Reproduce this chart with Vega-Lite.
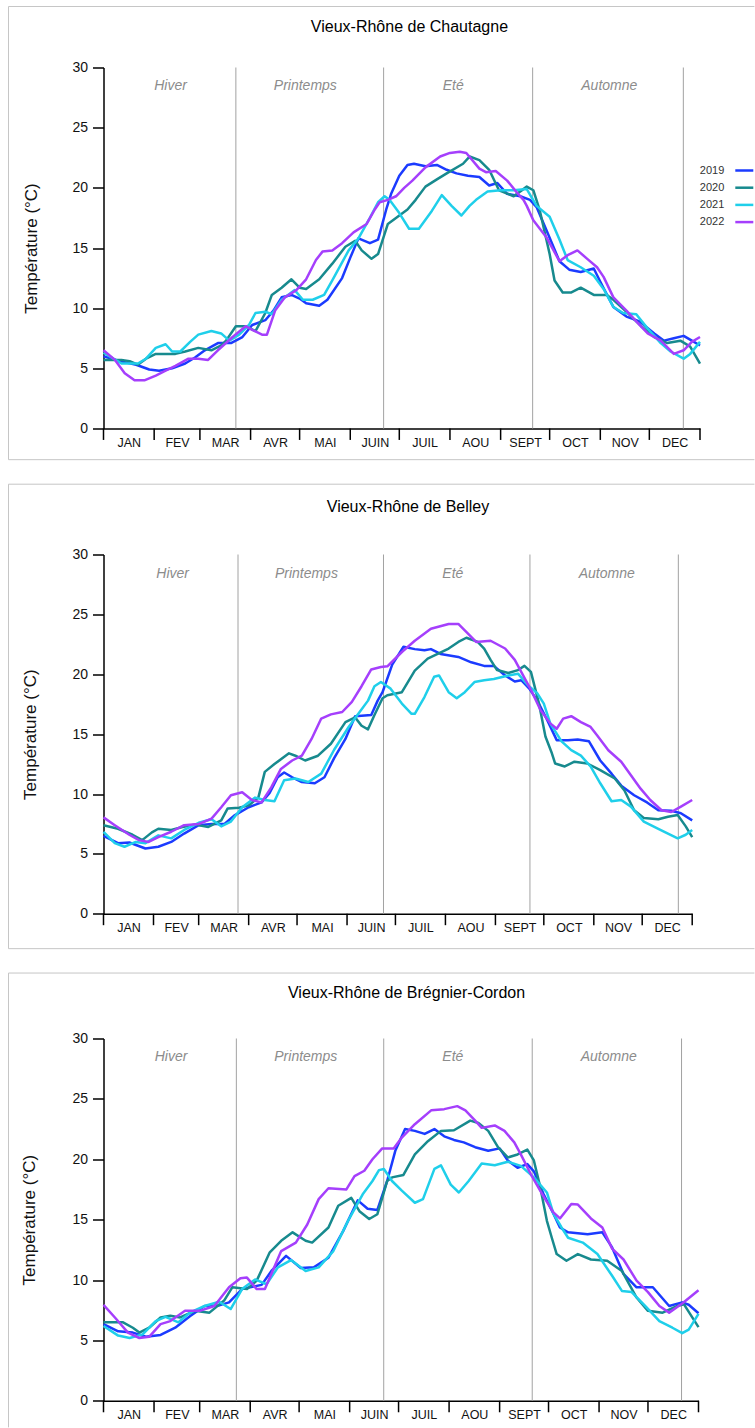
{
"$schema": "https://vega.github.io/schema/vega-lite/v6.json",
"background": "white",
"padding": {"left": 7.5, "top": 5.5, "right": 0, "bottom": 0},
"autosize": {"type": "pad"},
"columns": 1,
"align": "none",
"spacing": 23,
"config": {
  "view": {"stroke": null},
  "font": "Liberation Sans",
  "axis": {"labelFont": "Liberation Sans", "titleFont": "Liberation Sans", "labelColor": "#111", "titleColor": "#111", "grid": false},
  "legend": {"labelFont": "Liberation Sans"},
  "text": {"font": "Liberation Sans"}
},
"datasets": {
  "months": [{"d":0},{"d":31},{"d":59},{"d":90},{"d":120},{"d":151},{"d":181},{"d":212},{"d":243},{"d":273},{"d":304},{"d":334},{"d":365}],
  "s1": [{"name":"Hiver","end":81,"mid":41},{"name":"Printemps","end":171.4,"mid":123.5},{"name":"Eté","end":262.6,"mid":214},{"name":"Automne","end":354.8,"mid":309.5}],
  "s2": [{"name":"Hiver","end":83.4,"mid":42.9},{"name":"Printemps","end":173.6,"mid":125.8},{"name":"Eté","end":264.4,"mid":216.6},{"name":"Automne","end":356.4,"mid":312}],
  "s3": [{"name":"Hiver","end":81.5,"mid":41.4},{"name":"Printemps","end":171.9,"mid":124.1},{"name":"Eté","end":263,"mid":214.3},{"name":"Automne","end":354.6,"mid":309.9}],
  "chautagne": [
{"yr":2019,"d":0,"t":6.0},{"yr":2019,"d":10,"t":5.6},{"yr":2019,"d":20,"t":5.3},{"yr":2019,"d":28,"t":4.9},{"yr":2019,"d":34,"t":4.8},{"yr":2019,"d":42,"t":5.0},{"yr":2019,"d":50,"t":5.4},{"yr":2019,"d":56,"t":5.9},{"yr":2019,"d":62,"t":6.5},{"yr":2019,"d":70,"t":7.1},{"yr":2019,"d":78,"t":7.1},{"yr":2019,"d":85,"t":7.6},{"yr":2019,"d":91,"t":8.6},{"yr":2019,"d":99,"t":9.0},{"yr":2019,"d":104,"t":9.8},{"yr":2019,"d":109,"t":10.9},{"yr":2019,"d":115,"t":11.1},{"yr":2019,"d":120,"t":10.8},{"yr":2019,"d":124,"t":10.4},{"yr":2019,"d":132,"t":10.2},{"yr":2019,"d":137,"t":10.7},{"yr":2019,"d":146,"t":12.5},{"yr":2019,"d":151,"t":14.2},{"yr":2019,"d":156,"t":15.8},{"yr":2019,"d":163,"t":15.4},{"yr":2019,"d":168,"t":15.7},{"yr":2019,"d":173,"t":18.2},{"yr":2019,"d":176,"t":19.5},{"yr":2019,"d":181,"t":21.0},{"yr":2019,"d":186,"t":21.9},{"yr":2019,"d":190,"t":22.0},{"yr":2019,"d":197,"t":21.8},{"yr":2019,"d":204,"t":21.9},{"yr":2019,"d":210,"t":21.5},{"yr":2019,"d":216,"t":21.2},{"yr":2019,"d":223,"t":21.0},{"yr":2019,"d":230,"t":20.9},{"yr":2019,"d":236,"t":20.2},{"yr":2019,"d":241,"t":20.4},{"yr":2019,"d":247,"t":19.5},{"yr":2019,"d":255,"t":19.3},{"yr":2019,"d":261,"t":19.0},{"yr":2019,"d":265,"t":18.4},{"yr":2019,"d":271,"t":16.5},{"yr":2019,"d":279,"t":13.9},{"yr":2019,"d":285,"t":13.2},{"yr":2019,"d":292,"t":13.0},{"yr":2019,"d":300,"t":13.3},{"yr":2019,"d":304,"t":12.2},{"yr":2019,"d":312,"t":10.1},{"yr":2019,"d":320,"t":9.3},{"yr":2019,"d":328,"t":8.9},{"yr":2019,"d":337,"t":7.9},{"yr":2019,"d":343,"t":7.3},{"yr":2019,"d":349,"t":7.5},{"yr":2019,"d":355,"t":7.7},{"yr":2019,"d":360,"t":7.3},{"yr":2019,"d":365,"t":6.9},
{"yr":2020,"d":0,"t":5.7},{"yr":2020,"d":11,"t":5.7},{"yr":2020,"d":16,"t":5.6},{"yr":2020,"d":21,"t":5.3},{"yr":2020,"d":26,"t":5.8},{"yr":2020,"d":32,"t":6.2},{"yr":2020,"d":38,"t":6.2},{"yr":2020,"d":44,"t":6.2},{"yr":2020,"d":50,"t":6.4},{"yr":2020,"d":58,"t":6.7},{"yr":2020,"d":66,"t":6.5},{"yr":2020,"d":72,"t":6.9},{"yr":2020,"d":75,"t":7.3},{"yr":2020,"d":81,"t":8.5},{"yr":2020,"d":87,"t":8.5},{"yr":2020,"d":93,"t":8.1},{"yr":2020,"d":99,"t":9.6},{"yr":2020,"d":103,"t":11.1},{"yr":2020,"d":109,"t":11.7},{"yr":2020,"d":115,"t":12.4},{"yr":2020,"d":120,"t":11.7},{"yr":2020,"d":124,"t":11.6},{"yr":2020,"d":132,"t":12.4},{"yr":2020,"d":140,"t":13.7},{"yr":2020,"d":148,"t":15.1},{"yr":2020,"d":154,"t":15.6},{"yr":2020,"d":158,"t":14.8},{"yr":2020,"d":164,"t":14.1},{"yr":2020,"d":168,"t":14.5},{"yr":2020,"d":174,"t":17.0},{"yr":2020,"d":180,"t":17.6},{"yr":2020,"d":186,"t":18.2},{"yr":2020,"d":191,"t":19.0},{"yr":2020,"d":197,"t":20.1},{"yr":2020,"d":204,"t":20.7},{"yr":2020,"d":210,"t":21.2},{"yr":2020,"d":220,"t":22.0},{"yr":2020,"d":224,"t":22.6},{"yr":2020,"d":230,"t":22.3},{"yr":2020,"d":236,"t":21.5},{"yr":2020,"d":242,"t":19.8},{"yr":2020,"d":251,"t":19.3},{"yr":2020,"d":259,"t":20.1},{"yr":2020,"d":263,"t":19.8},{"yr":2020,"d":267,"t":18.1},{"yr":2020,"d":273,"t":14.5},{"yr":2020,"d":276,"t":12.3},{"yr":2020,"d":281,"t":11.3},{"yr":2020,"d":286,"t":11.3},{"yr":2020,"d":292,"t":11.7},{"yr":2020,"d":300,"t":11.1},{"yr":2020,"d":308,"t":11.1},{"yr":2020,"d":312,"t":10.7},{"yr":2020,"d":320,"t":9.7},{"yr":2020,"d":329,"t":8.5},{"yr":2020,"d":337,"t":7.6},{"yr":2020,"d":345,"t":7.1},{"yr":2020,"d":353,"t":7.3},{"yr":2020,"d":359,"t":6.8},{"yr":2020,"d":365,"t":5.4},
{"yr":2021,"d":0,"t":6.3},{"yr":2021,"d":11,"t":5.4},{"yr":2021,"d":21,"t":5.4},{"yr":2021,"d":26,"t":5.8},{"yr":2021,"d":32,"t":6.7},{"yr":2021,"d":38,"t":7.0},{"yr":2021,"d":42,"t":6.4},{"yr":2021,"d":47,"t":6.4},{"yr":2021,"d":53,"t":7.2},{"yr":2021,"d":58,"t":7.8},{"yr":2021,"d":66,"t":8.1},{"yr":2021,"d":72,"t":7.9},{"yr":2021,"d":77,"t":7.3},{"yr":2021,"d":83,"t":7.8},{"yr":2021,"d":89,"t":8.6},{"yr":2021,"d":93,"t":9.6},{"yr":2021,"d":99,"t":9.7},{"yr":2021,"d":103,"t":9.5},{"yr":2021,"d":109,"t":10.7},{"yr":2021,"d":117,"t":11.5},{"yr":2021,"d":122,"t":10.7},{"yr":2021,"d":128,"t":10.7},{"yr":2021,"d":135,"t":11.1},{"yr":2021,"d":140,"t":12.3},{"yr":2021,"d":150,"t":14.8},{"yr":2021,"d":156,"t":15.8},{"yr":2021,"d":163,"t":17.5},{"yr":2021,"d":168,"t":18.8},{"yr":2021,"d":172,"t":19.3},{"yr":2021,"d":175,"t":19.0},{"yr":2021,"d":181,"t":17.9},{"yr":2021,"d":187,"t":16.6},{"yr":2021,"d":193,"t":16.6},{"yr":2021,"d":201,"t":18.1},{"yr":2021,"d":207,"t":19.4},{"yr":2021,"d":213,"t":18.5},{"yr":2021,"d":219,"t":17.7},{"yr":2021,"d":224,"t":18.5},{"yr":2021,"d":228,"t":19.0},{"yr":2021,"d":235,"t":19.7},{"yr":2021,"d":243,"t":19.8},{"yr":2021,"d":251,"t":19.8},{"yr":2021,"d":259,"t":19.9},{"yr":2021,"d":265,"t":18.5},{"yr":2021,"d":273,"t":17.6},{"yr":2021,"d":279,"t":15.7},{"yr":2021,"d":284,"t":14.0},{"yr":2021,"d":292,"t":13.4},{"yr":2021,"d":300,"t":12.7},{"yr":2021,"d":306,"t":11.6},{"yr":2021,"d":312,"t":10.1},{"yr":2021,"d":318,"t":9.6},{"yr":2021,"d":326,"t":9.5},{"yr":2021,"d":333,"t":8.3},{"yr":2021,"d":341,"t":7.1},{"yr":2021,"d":347,"t":6.4},{"yr":2021,"d":355,"t":5.8},{"yr":2021,"d":359,"t":6.2},{"yr":2021,"d":365,"t":7.2},
{"yr":2022,"d":0,"t":6.5},{"yr":2022,"d":7,"t":5.7},{"yr":2022,"d":13,"t":4.6},{"yr":2022,"d":19,"t":4.0},{"yr":2022,"d":25,"t":4.0},{"yr":2022,"d":32,"t":4.4},{"yr":2022,"d":38,"t":4.8},{"yr":2022,"d":44,"t":5.2},{"yr":2022,"d":52,"t":5.8},{"yr":2022,"d":58,"t":5.8},{"yr":2022,"d":64,"t":5.7},{"yr":2022,"d":70,"t":6.5},{"yr":2022,"d":79,"t":7.6},{"yr":2022,"d":87,"t":8.5},{"yr":2022,"d":91,"t":8.2},{"yr":2022,"d":97,"t":7.8},{"yr":2022,"d":100,"t":7.8},{"yr":2022,"d":105,"t":9.8},{"yr":2022,"d":111,"t":10.9},{"yr":2022,"d":118,"t":11.5},{"yr":2022,"d":124,"t":12.4},{"yr":2022,"d":130,"t":14.0},{"yr":2022,"d":134,"t":14.7},{"yr":2022,"d":140,"t":14.8},{"yr":2022,"d":146,"t":15.4},{"yr":2022,"d":153,"t":16.3},{"yr":2022,"d":161,"t":17.0},{"yr":2022,"d":166,"t":18.2},{"yr":2022,"d":169,"t":18.8},{"yr":2022,"d":174,"t":19.0},{"yr":2022,"d":179,"t":19.3},{"yr":2022,"d":184,"t":20.0},{"yr":2022,"d":189,"t":20.6},{"yr":2022,"d":197,"t":21.7},{"yr":2022,"d":206,"t":22.6},{"yr":2022,"d":212,"t":22.9},{"yr":2022,"d":218,"t":23.0},{"yr":2022,"d":222,"t":22.9},{"yr":2022,"d":230,"t":21.6},{"yr":2022,"d":234,"t":21.3},{"yr":2022,"d":240,"t":21.4},{"yr":2022,"d":247,"t":20.6},{"yr":2022,"d":253,"t":19.6},{"yr":2022,"d":257,"t":19.0},{"yr":2022,"d":259,"t":18.5},{"yr":2022,"d":263,"t":17.3},{"yr":2022,"d":271,"t":15.9},{"yr":2022,"d":279,"t":13.9},{"yr":2022,"d":284,"t":14.4},{"yr":2022,"d":290,"t":14.8},{"yr":2022,"d":296,"t":14.1},{"yr":2022,"d":302,"t":13.4},{"yr":2022,"d":306,"t":12.6},{"yr":2022,"d":312,"t":10.9},{"yr":2022,"d":320,"t":9.8},{"yr":2022,"d":326,"t":8.9},{"yr":2022,"d":333,"t":7.9},{"yr":2022,"d":341,"t":7.3},{"yr":2022,"d":349,"t":6.2},{"yr":2022,"d":355,"t":6.5},{"yr":2022,"d":360,"t":7.2},{"yr":2022,"d":365,"t":7.6}
  ],
  "belley": [
{"yr":2019,"d":0,"t":6.5},{"yr":2019,"d":9,"t":5.9},{"yr":2019,"d":16,"t":5.95},{"yr":2019,"d":26,"t":5.45},{"yr":2019,"d":34,"t":5.6},{"yr":2019,"d":42,"t":6.0},{"yr":2019,"d":50,"t":6.7},{"yr":2019,"d":59,"t":7.4},{"yr":2019,"d":67,"t":7.5},{"yr":2019,"d":75,"t":7.5},{"yr":2019,"d":81,"t":8.2},{"yr":2019,"d":90,"t":8.9},{"yr":2019,"d":98,"t":9.3},{"yr":2019,"d":103,"t":10.1},{"yr":2019,"d":108,"t":11.4},{"yr":2019,"d":112,"t":11.8},{"yr":2019,"d":117,"t":11.4},{"yr":2019,"d":123,"t":11.0},{"yr":2019,"d":131,"t":10.9},{"yr":2019,"d":137,"t":11.4},{"yr":2019,"d":143,"t":13.0},{"yr":2019,"d":150,"t":14.6},{"yr":2019,"d":156,"t":16.5},{"yr":2019,"d":166,"t":16.6},{"yr":2019,"d":170,"t":17.8},{"yr":2019,"d":173,"t":18.5},{"yr":2019,"d":179,"t":20.8},{"yr":2019,"d":186,"t":22.3},{"yr":2019,"d":193,"t":22.1},{"yr":2019,"d":199,"t":22.0},{"yr":2019,"d":203,"t":22.1},{"yr":2019,"d":209,"t":21.7},{"yr":2019,"d":220,"t":21.45},{"yr":2019,"d":228,"t":21.0},{"yr":2019,"d":236,"t":20.7},{"yr":2019,"d":242,"t":20.7},{"yr":2019,"d":249,"t":19.9},{"yr":2019,"d":255,"t":19.4},{"yr":2019,"d":259,"t":19.5},{"yr":2019,"d":264,"t":18.8},{"yr":2019,"d":269,"t":17.8},{"yr":2019,"d":275,"t":16.2},{"yr":2019,"d":281,"t":14.5},{"yr":2019,"d":288,"t":14.5},{"yr":2019,"d":294,"t":14.55},{"yr":2019,"d":301,"t":14.4},{"yr":2019,"d":308,"t":12.8},{"yr":2019,"d":315,"t":11.7},{"yr":2019,"d":321,"t":10.7},{"yr":2019,"d":329,"t":9.9},{"yr":2019,"d":337,"t":9.3},{"yr":2019,"d":344,"t":8.65},{"yr":2019,"d":352,"t":8.6},{"yr":2019,"d":358,"t":8.4},{"yr":2019,"d":365,"t":7.8},
{"yr":2020,"d":0,"t":7.4},{"yr":2020,"d":9,"t":7.1},{"yr":2020,"d":18,"t":6.6},{"yr":2020,"d":24,"t":6.15},{"yr":2020,"d":30,"t":6.8},{"yr":2020,"d":34,"t":7.1},{"yr":2020,"d":42,"t":7.0},{"yr":2020,"d":49,"t":7.25},{"yr":2020,"d":57,"t":7.45},{"yr":2020,"d":65,"t":7.25},{"yr":2020,"d":73,"t":7.8},{"yr":2020,"d":77,"t":8.8},{"yr":2020,"d":84,"t":8.85},{"yr":2020,"d":90,"t":9.05},{"yr":2020,"d":96,"t":9.7},{"yr":2020,"d":100,"t":11.85},{"yr":2020,"d":106,"t":12.5},{"yr":2020,"d":115,"t":13.4},{"yr":2020,"d":119,"t":13.2},{"yr":2020,"d":125,"t":12.8},{"yr":2020,"d":133,"t":13.2},{"yr":2020,"d":141,"t":14.2},{"yr":2020,"d":150,"t":16.0},{"yr":2020,"d":156,"t":16.4},{"yr":2020,"d":160,"t":15.7},{"yr":2020,"d":164,"t":15.4},{"yr":2020,"d":168,"t":16.6},{"yr":2020,"d":173,"t":18.0},{"yr":2020,"d":176,"t":18.25},{"yr":2020,"d":185,"t":18.5},{"yr":2020,"d":193,"t":20.3},{"yr":2020,"d":201,"t":21.3},{"yr":2020,"d":214,"t":22.15},{"yr":2020,"d":220,"t":22.7},{"yr":2020,"d":225,"t":23.05},{"yr":2020,"d":232,"t":22.7},{"yr":2020,"d":236,"t":22.15},{"yr":2020,"d":240,"t":21.2},{"yr":2020,"d":244,"t":20.35},{"yr":2020,"d":251,"t":20.1},{"yr":2020,"d":257,"t":20.35},{"yr":2020,"d":261,"t":20.7},{"yr":2020,"d":265,"t":20.2},{"yr":2020,"d":270,"t":17.55},{"yr":2020,"d":274,"t":14.8},{"yr":2020,"d":278,"t":13.4},{"yr":2020,"d":280,"t":12.55},{"yr":2020,"d":286,"t":12.3},{"yr":2020,"d":292,"t":12.7},{"yr":2020,"d":300,"t":12.55},{"yr":2020,"d":308,"t":12.0},{"yr":2020,"d":317,"t":11.3},{"yr":2020,"d":323,"t":10.3},{"yr":2020,"d":329,"t":8.65},{"yr":2020,"d":335,"t":8.0},{"yr":2020,"d":344,"t":7.9},{"yr":2020,"d":350,"t":8.1},{"yr":2020,"d":356,"t":8.25},{"yr":2020,"d":361,"t":7.3},{"yr":2020,"d":365,"t":6.4},
{"yr":2021,"d":0,"t":6.85},{"yr":2021,"d":7,"t":5.9},{"yr":2021,"d":13,"t":5.6},{"yr":2021,"d":20,"t":6.0},{"yr":2021,"d":26,"t":5.9},{"yr":2021,"d":34,"t":6.55},{"yr":2021,"d":42,"t":6.3},{"yr":2021,"d":50,"t":7.0},{"yr":2021,"d":59,"t":7.6},{"yr":2021,"d":67,"t":7.9},{"yr":2021,"d":73,"t":7.3},{"yr":2021,"d":79,"t":7.7},{"yr":2021,"d":86,"t":8.9},{"yr":2021,"d":94,"t":9.7},{"yr":2021,"d":100,"t":9.5},{"yr":2021,"d":106,"t":9.4},{"yr":2021,"d":112,"t":11.15},{"yr":2021,"d":119,"t":11.3},{"yr":2021,"d":127,"t":11.0},{"yr":2021,"d":135,"t":11.7},{"yr":2021,"d":143,"t":13.7},{"yr":2021,"d":152,"t":15.6},{"yr":2021,"d":158,"t":16.7},{"yr":2021,"d":164,"t":17.8},{"yr":2021,"d":168,"t":19.0},{"yr":2021,"d":172,"t":19.35},{"yr":2021,"d":178,"t":18.8},{"yr":2021,"d":185,"t":17.55},{"yr":2021,"d":191,"t":16.7},{"yr":2021,"d":193,"t":16.7},{"yr":2021,"d":199,"t":18.1},{"yr":2021,"d":205,"t":19.8},{"yr":2021,"d":208,"t":19.9},{"yr":2021,"d":214,"t":18.5},{"yr":2021,"d":219,"t":18.0},{"yr":2021,"d":224,"t":18.5},{"yr":2021,"d":230,"t":19.35},{"yr":2021,"d":236,"t":19.5},{"yr":2021,"d":242,"t":19.6},{"yr":2021,"d":251,"t":19.9},{"yr":2021,"d":257,"t":20.05},{"yr":2021,"d":263,"t":19.1},{"yr":2021,"d":269,"t":18.4},{"yr":2021,"d":273,"t":17.55},{"yr":2021,"d":277,"t":15.9},{"yr":2021,"d":284,"t":14.4},{"yr":2021,"d":290,"t":13.66},{"yr":2021,"d":296,"t":13.2},{"yr":2021,"d":302,"t":12.3},{"yr":2021,"d":308,"t":10.9},{"yr":2021,"d":315,"t":9.4},{"yr":2021,"d":321,"t":9.5},{"yr":2021,"d":327,"t":8.95},{"yr":2021,"d":335,"t":7.7},{"yr":2021,"d":344,"t":7.1},{"yr":2021,"d":350,"t":6.7},{"yr":2021,"d":356,"t":6.3},{"yr":2021,"d":361,"t":6.6},{"yr":2021,"d":365,"t":7.0},
{"yr":2022,"d":0,"t":8.05},{"yr":2022,"d":7,"t":7.4},{"yr":2022,"d":16,"t":6.6},{"yr":2022,"d":22,"t":6.15},{"yr":2022,"d":28,"t":6.0},{"yr":2022,"d":34,"t":6.4},{"yr":2022,"d":42,"t":6.85},{"yr":2022,"d":50,"t":7.4},{"yr":2022,"d":59,"t":7.5},{"yr":2022,"d":67,"t":7.95},{"yr":2022,"d":73,"t":8.9},{"yr":2022,"d":79,"t":9.9},{"yr":2022,"d":86,"t":10.15},{"yr":2022,"d":92,"t":9.5},{"yr":2022,"d":98,"t":9.3},{"yr":2022,"d":104,"t":10.55},{"yr":2022,"d":110,"t":12.1},{"yr":2022,"d":117,"t":12.8},{"yr":2022,"d":123,"t":13.2},{"yr":2022,"d":129,"t":14.6},{"yr":2022,"d":135,"t":16.3},{"yr":2022,"d":141,"t":16.65},{"yr":2022,"d":148,"t":16.85},{"yr":2022,"d":154,"t":17.7},{"yr":2022,"d":160,"t":19.0},{"yr":2022,"d":166,"t":20.4},{"yr":2022,"d":172,"t":20.6},{"yr":2022,"d":176,"t":20.66},{"yr":2022,"d":185,"t":21.86},{"yr":2022,"d":193,"t":22.8},{"yr":2022,"d":203,"t":23.8},{"yr":2022,"d":214,"t":24.2},{"yr":2022,"d":220,"t":24.2},{"yr":2022,"d":226,"t":23.4},{"yr":2022,"d":231,"t":22.7},{"yr":2022,"d":240,"t":22.8},{"yr":2022,"d":249,"t":22.15},{"yr":2022,"d":255,"t":21.2},{"yr":2022,"d":259,"t":20.2},{"yr":2022,"d":265,"t":18.7},{"yr":2022,"d":271,"t":17.0},{"yr":2022,"d":277,"t":15.9},{"yr":2022,"d":281,"t":15.45},{"yr":2022,"d":285,"t":16.3},{"yr":2022,"d":290,"t":16.5},{"yr":2022,"d":296,"t":16.0},{"yr":2022,"d":302,"t":15.6},{"yr":2022,"d":306,"t":14.9},{"yr":2022,"d":313,"t":13.66},{"yr":2022,"d":321,"t":12.7},{"yr":2022,"d":327,"t":11.57},{"yr":2022,"d":333,"t":10.45},{"yr":2022,"d":339,"t":9.5},{"yr":2022,"d":346,"t":8.65},{"yr":2022,"d":352,"t":8.5},{"yr":2022,"d":358,"t":8.95},{"yr":2022,"d":365,"t":9.5}
  ],
  "bregnier": [
{"yr":2019,"d":0,"t":6.35},{"yr":2019,"d":9,"t":5.75},{"yr":2019,"d":18,"t":5.65},{"yr":2019,"d":26,"t":5.3},{"yr":2019,"d":35,"t":5.45},{"yr":2019,"d":44,"t":6.05},{"yr":2019,"d":53,"t":7.0},{"yr":2019,"d":62,"t":7.85},{"yr":2019,"d":71,"t":7.9},{"yr":2019,"d":77,"t":8.15},{"yr":2019,"d":85,"t":9.25},{"yr":2019,"d":97,"t":9.6},{"yr":2019,"d":103,"t":10.75},{"yr":2019,"d":112,"t":12.0},{"yr":2019,"d":121,"t":11.0},{"yr":2019,"d":129,"t":11.05},{"yr":2019,"d":138,"t":11.85},{"yr":2019,"d":147,"t":14.05},{"yr":2019,"d":156,"t":16.6},{"yr":2019,"d":162,"t":15.9},{"yr":2019,"d":168,"t":15.8},{"yr":2019,"d":174,"t":18.2},{"yr":2019,"d":179,"t":20.7},{"yr":2019,"d":185,"t":22.5},{"yr":2019,"d":191,"t":22.35},{"yr":2019,"d":197,"t":22.1},{"yr":2019,"d":203,"t":22.5},{"yr":2019,"d":209,"t":21.9},{"yr":2019,"d":215,"t":21.6},{"yr":2019,"d":221,"t":21.4},{"yr":2019,"d":228,"t":21.0},{"yr":2019,"d":236,"t":20.7},{"yr":2019,"d":243,"t":20.9},{"yr":2019,"d":248,"t":19.9},{"yr":2019,"d":254,"t":19.3},{"yr":2019,"d":260,"t":19.6},{"yr":2019,"d":264,"t":19.0},{"yr":2019,"d":270,"t":17.1},{"yr":2019,"d":276,"t":15.5},{"yr":2019,"d":280,"t":14.35},{"yr":2019,"d":285,"t":13.95},{"yr":2019,"d":297,"t":13.8},{"yr":2019,"d":306,"t":13.95},{"yr":2019,"d":312,"t":12.7},{"yr":2019,"d":319,"t":10.5},{"yr":2019,"d":327,"t":9.4},{"yr":2019,"d":337,"t":9.4},{"yr":2019,"d":347,"t":7.85},{"yr":2019,"d":355,"t":8.15},{"yr":2019,"d":359,"t":7.95},{"yr":2019,"d":365,"t":7.25},
{"yr":2020,"d":0,"t":6.5},{"yr":2020,"d":12,"t":6.5},{"yr":2020,"d":18,"t":6.05},{"yr":2020,"d":22,"t":5.65},{"yr":2020,"d":28,"t":6.05},{"yr":2020,"d":35,"t":6.9},{"yr":2020,"d":41,"t":7.05},{"yr":2020,"d":47,"t":6.9},{"yr":2020,"d":56,"t":7.45},{"yr":2020,"d":65,"t":7.3},{"yr":2020,"d":74,"t":8.3},{"yr":2020,"d":79,"t":9.4},{"yr":2020,"d":88,"t":9.25},{"yr":2020,"d":94,"t":9.95},{"yr":2020,"d":102,"t":12.3},{"yr":2020,"d":109,"t":13.25},{"yr":2020,"d":116,"t":13.95},{"yr":2020,"d":124,"t":13.25},{"yr":2020,"d":128,"t":13.1},{"yr":2020,"d":138,"t":14.35},{"yr":2020,"d":144,"t":16.15},{"yr":2020,"d":152,"t":16.8},{"yr":2020,"d":157,"t":15.7},{"yr":2020,"d":163,"t":15.05},{"yr":2020,"d":168,"t":15.45},{"yr":2020,"d":171,"t":16.8},{"yr":2020,"d":174,"t":18.2},{"yr":2020,"d":177,"t":18.5},{"yr":2020,"d":184,"t":18.7},{"yr":2020,"d":191,"t":20.4},{"yr":2020,"d":199,"t":21.5},{"yr":2020,"d":207,"t":22.35},{"yr":2020,"d":215,"t":22.4},{"yr":2020,"d":225,"t":23.2},{"yr":2020,"d":230,"t":23.0},{"yr":2020,"d":236,"t":22.35},{"yr":2020,"d":242,"t":21.0},{"yr":2020,"d":248,"t":20.15},{"yr":2020,"d":254,"t":20.4},{"yr":2020,"d":260,"t":20.8},{"yr":2020,"d":264,"t":19.9},{"yr":2020,"d":268,"t":17.65},{"yr":2020,"d":272,"t":14.9},{"yr":2020,"d":275,"t":13.5},{"yr":2020,"d":278,"t":12.15},{"yr":2020,"d":284,"t":11.6},{"yr":2020,"d":291,"t":12.15},{"yr":2020,"d":299,"t":11.7},{"yr":2020,"d":309,"t":11.6},{"yr":2020,"d":318,"t":10.75},{"yr":2020,"d":327,"t":8.55},{"yr":2020,"d":334,"t":7.45},{"yr":2020,"d":343,"t":7.3},{"yr":2020,"d":352,"t":7.85},{"yr":2020,"d":356,"t":8.0},{"yr":2020,"d":365,"t":6.1},
{"yr":2021,"d":0,"t":6.2},{"yr":2021,"d":9,"t":5.4},{"yr":2021,"d":16,"t":5.2},{"yr":2021,"d":24,"t":5.5},{"yr":2021,"d":32,"t":6.6},{"yr":2021,"d":38,"t":6.95},{"yr":2021,"d":46,"t":6.5},{"yr":2021,"d":53,"t":7.3},{"yr":2021,"d":62,"t":7.85},{"yr":2021,"d":71,"t":8.2},{"yr":2021,"d":78,"t":7.6},{"yr":2021,"d":85,"t":9.25},{"yr":2021,"d":93,"t":10.05},{"yr":2021,"d":100,"t":9.65},{"yr":2021,"d":107,"t":11.05},{"yr":2021,"d":115,"t":11.65},{"yr":2021,"d":124,"t":10.75},{"yr":2021,"d":132,"t":11.05},{"yr":2021,"d":141,"t":12.4},{"yr":2021,"d":150,"t":14.9},{"yr":2021,"d":159,"t":17.1},{"yr":2021,"d":165,"t":18.2},{"yr":2021,"d":169,"t":19.1},{"yr":2021,"d":172,"t":19.2},{"yr":2021,"d":177,"t":18.2},{"yr":2021,"d":183,"t":17.4},{"yr":2021,"d":191,"t":16.4},{"yr":2021,"d":196,"t":16.7},{"yr":2021,"d":203,"t":19.2},{"yr":2021,"d":207,"t":19.5},{"yr":2021,"d":213,"t":17.9},{"yr":2021,"d":218,"t":17.25},{"yr":2021,"d":224,"t":18.2},{"yr":2021,"d":232,"t":19.65},{"yr":2021,"d":240,"t":19.5},{"yr":2021,"d":248,"t":19.8},{"yr":2021,"d":256,"t":19.45},{"yr":2021,"d":264,"t":18.5},{"yr":2021,"d":272,"t":17.25},{"yr":2021,"d":276,"t":15.5},{"yr":2021,"d":281,"t":14.35},{"yr":2021,"d":285,"t":13.5},{"yr":2021,"d":294,"t":13.1},{"yr":2021,"d":303,"t":12.15},{"yr":2021,"d":312,"t":10.35},{"yr":2021,"d":318,"t":9.1},{"yr":2021,"d":324,"t":9.0},{"yr":2021,"d":333,"t":7.75},{"yr":2021,"d":341,"t":6.6},{"yr":2021,"d":349,"t":6.05},{"yr":2021,"d":355,"t":5.6},{"yr":2021,"d":359,"t":5.9},{"yr":2021,"d":365,"t":7.2},
{"yr":2022,"d":0,"t":7.95},{"yr":2022,"d":7,"t":6.9},{"yr":2022,"d":15,"t":5.65},{"yr":2022,"d":22,"t":5.2},{"yr":2022,"d":28,"t":5.3},{"yr":2022,"d":35,"t":6.35},{"yr":2022,"d":41,"t":6.6},{"yr":2022,"d":50,"t":7.45},{"yr":2022,"d":59,"t":7.45},{"yr":2022,"d":68,"t":7.85},{"yr":2022,"d":77,"t":9.4},{"yr":2022,"d":84,"t":10.15},{"yr":2022,"d":88,"t":10.2},{"yr":2022,"d":94,"t":9.25},{"yr":2022,"d":99,"t":9.25},{"yr":2022,"d":109,"t":12.4},{"yr":2022,"d":118,"t":13.1},{"yr":2022,"d":125,"t":14.6},{"yr":2022,"d":132,"t":16.7},{"yr":2022,"d":138,"t":17.6},{"yr":2022,"d":149,"t":17.5},{"yr":2022,"d":154,"t":18.6},{"yr":2022,"d":160,"t":19.05},{"yr":2022,"d":165,"t":20.0},{"yr":2022,"d":171,"t":20.9},{"yr":2022,"d":178,"t":20.9},{"yr":2022,"d":183,"t":21.8},{"yr":2022,"d":191,"t":22.9},{"yr":2022,"d":201,"t":24.05},{"yr":2022,"d":209,"t":24.15},{"yr":2022,"d":217,"t":24.4},{"yr":2022,"d":222,"t":24.05},{"yr":2022,"d":228,"t":23.2},{"yr":2022,"d":232,"t":22.6},{"yr":2022,"d":240,"t":22.8},{"yr":2022,"d":246,"t":22.35},{"yr":2022,"d":252,"t":21.4},{"yr":2022,"d":256,"t":20.4},{"yr":2022,"d":262,"t":18.8},{"yr":2022,"d":270,"t":16.9},{"yr":2022,"d":276,"t":15.6},{"yr":2022,"d":280,"t":15.1},{"yr":2022,"d":287,"t":16.3},{"yr":2022,"d":291,"t":16.25},{"yr":2022,"d":299,"t":15.1},{"yr":2022,"d":306,"t":14.35},{"yr":2022,"d":312,"t":12.6},{"yr":2022,"d":319,"t":11.7},{"yr":2022,"d":327,"t":9.95},{"yr":2022,"d":334,"t":9.0},{"yr":2022,"d":341,"t":7.85},{"yr":2022,"d":347,"t":7.3},{"yr":2022,"d":355,"t":8.05},{"yr":2022,"d":365,"t":9.15}
  ]
},
"concat": [
{
  "width": 596.5, "height": 361,
  "resolve": {"axis": {"x": "independent", "y": "independent"}},
  "layer": [
    {"data": {"values": [{}]}, "mark": {"type": "rule", "color": "#c6c6c6", "strokeWidth": 1},
     "encoding": {"x": {"datum": -58.13, "type": "quantitative", "axis": null}, "x2": {"datum": 398.3}, "y": {"datum": 35.07, "type": "quantitative", "axis": null}}},
    {"data": {"values": [{}]}, "mark": {"type": "rule", "color": "#c6c6c6", "strokeWidth": 1},
     "encoding": {"x": {"datum": -58.13, "type": "quantitative", "axis": null}, "x2": {"datum": 398.3}, "y": {"datum": -2.59, "type": "quantitative", "axis": null}}},
    {"data": {"values": [{}]}, "mark": {"type": "rule", "color": "#c6c6c6", "strokeWidth": 1},
     "encoding": {"x": {"datum": -58.13, "type": "quantitative", "axis": null}, "y": {"datum": -2.59, "type": "quantitative", "axis": null}, "y2": {"datum": 35.07}}},
    {"data": {"values": [{}]}, "mark": {"type": "text", "text": "Vieux-Rhône de Chautagne", "fontSize": 16, "color": "#000", "align": "center", "baseline": "alphabetic"},
     "encoding": {"x": {"datum": 187.2, "type": "quantitative", "axis": null}, "y": {"datum": 32.95, "type": "quantitative", "axis": null}}},
    {"data": {"name": "s1"}, "mark": {"type": "rule", "color": "#a2a2a2", "strokeWidth": 1},
     "encoding": {"x": {"field": "end", "type": "quantitative", "axis": null}, "y": {"datum": 0, "type": "quantitative", "axis": null}, "y2": {"datum": 30}}},
    {"data": {"name": "s1"}, "mark": {"type": "text", "fontStyle": "italic", "fontSize": 14, "color": "#8c8c8c", "baseline": "alphabetic", "align": "center"},
     "encoding": {"x": {"field": "mid", "type": "quantitative", "axis": null}, "y": {"datum": 28.15, "type": "quantitative", "axis": null}, "text": {"field": "name"}}},
    {"data": {"name": "months"}, "mark": {"type": "rule", "color": "#000", "strokeWidth": 1.5},
     "encoding": {"x": {"field": "d", "type": "quantitative", "axis": null}, "y": {"datum": 0, "type": "quantitative", "axis": null}, "y2": {"datum": -0.95}}},
    {"data": {"name": "chautagne"}, "mark": {"type": "line", "strokeWidth": 2.5, "strokeJoin": "round"},
     "encoding": {
      "x": {"field": "d", "type": "quantitative", "scale": {"domain": [0,365], "nice": false, "zero": false},
            "axis": {"values": [15.5,45,74.5,105,135.5,166,196.5,227.5,258,288.5,319,349.5], "labelExpr": "['JAN','FEV','MAR','AVR','MAI','JUIN','JUIL','AOU','SEPT','OCT','NOV','DEC'][floor(datum.value/30.42)]", "ticks": false, "tickSize": 0, "domainColor": "#000", "domainWidth": 1.5, "labelPadding": 8, "labelFontSize": 12.5, "labelFlush": false, "labelOverlap": false, "title": null}},
      "y": {"field": "t", "type": "quantitative", "scale": {"domain": [0,30], "nice": false},
            "axis": {"values": [0,5,10,15,20,25,30], "tickSize": 11, "tickWidth": 1.5, "tickColor": "#000", "domainColor": "#000", "domainWidth": 1.5, "labelFontSize": 14, "labelPadding": 5, "title": "Température (°C)", "titleFontSize": 17, "titleFontWeight": "normal", "titlePadding": 31}},
      "color": {"field": "yr", "type": "nominal", "scale": {"domain": [2019,2020,2021,2022], "range": ["#1b3bff","#178a8e","#1fcfea","#a53ffc"]},
            "legend": {"orient": "none", "legendX": 630.3, "legendY": 92.5, "direction": "vertical", "title": null, "symbolType": "stroke", "symbolSize": 324, "symbolStrokeWidth": 2.5, "symbolOffset": 0, "labelOffset": -55, "labelFontSize": 11, "labelColor": "#333", "rowPadding": 1.2, "padding": 0, "labelAlign": "left", "labelBaseline": "middle"}}
     }}
  ]
},
{
  "width": 588.7, "height": 359.3,
  "resolve": {"axis": {"x": "independent", "y": "independent"}},
  "layer": [
    {"data": {"values": [{}]}, "mark": {"type": "rule", "color": "#c6c6c6", "strokeWidth": 1},
     "encoding": {"x": {"datum": -58.9, "type": "quantitative", "axis": null}, "x2": {"datum": 403.6}, "y": {"datum": 35.87, "type": "quantitative", "axis": null}}},
    {"data": {"values": [{}]}, "mark": {"type": "rule", "color": "#c6c6c6", "strokeWidth": 1},
     "encoding": {"x": {"datum": -58.9, "type": "quantitative", "axis": null}, "x2": {"datum": 403.6}, "y": {"datum": -2.91, "type": "quantitative", "axis": null}}},
    {"data": {"values": [{}]}, "mark": {"type": "rule", "color": "#c6c6c6", "strokeWidth": 1},
     "encoding": {"x": {"datum": -58.9, "type": "quantitative", "axis": null}, "y": {"datum": -2.91, "type": "quantitative", "axis": null}, "y2": {"datum": 35.87}}},
    {"data": {"values": [{}]}, "mark": {"type": "text", "text": "Vieux-Rhône de Belley", "fontSize": 16, "color": "#000", "align": "center", "baseline": "alphabetic"},
     "encoding": {"x": {"datum": 188.8, "type": "quantitative", "axis": null}, "y": {"datum": 33.51, "type": "quantitative", "axis": null}}},
    {"data": {"name": "s2"}, "mark": {"type": "rule", "color": "#a2a2a2", "strokeWidth": 1},
     "encoding": {"x": {"field": "end", "type": "quantitative", "axis": null}, "y": {"datum": 0, "type": "quantitative", "axis": null}, "y2": {"datum": 30}}},
    {"data": {"name": "s2"}, "mark": {"type": "text", "fontStyle": "italic", "fontSize": 14, "color": "#8c8c8c", "baseline": "alphabetic", "align": "center"},
     "encoding": {"x": {"field": "mid", "type": "quantitative", "axis": null}, "y": {"datum": 28.0, "type": "quantitative", "axis": null}, "text": {"field": "name"}}},
    {"data": {"name": "months"}, "mark": {"type": "rule", "color": "#000", "strokeWidth": 1.5},
     "encoding": {"x": {"field": "d", "type": "quantitative", "axis": null}, "y": {"datum": 0, "type": "quantitative", "axis": null}, "y2": {"datum": -0.95}}},
    {"data": {"name": "belley"}, "mark": {"type": "line", "strokeWidth": 2.5, "strokeJoin": "round"},
     "encoding": {
      "x": {"field": "d", "type": "quantitative", "scale": {"domain": [0,365], "nice": false, "zero": false},
            "axis": {"values": [15.5,45,74.5,105,135.5,166,196.5,227.5,258,288.5,319,349.5], "labelExpr": "['JAN','FEV','MAR','AVR','MAI','JUIN','JUIL','AOU','SEPT','OCT','NOV','DEC'][floor(datum.value/30.42)]", "ticks": false, "tickSize": 0, "domainColor": "#000", "domainWidth": 1.5, "labelPadding": 8, "labelFontSize": 12.5, "labelFlush": false, "labelOverlap": false, "title": null}},
      "y": {"field": "t", "type": "quantitative", "scale": {"domain": [0,30], "nice": false},
            "axis": {"values": [0,5,10,15,20,25,30], "tickSize": 11, "tickWidth": 1.5, "tickColor": "#000", "domainColor": "#000", "domainWidth": 1.5, "labelFontSize": 14, "labelPadding": 5, "title": "Température (°C)", "titleFontSize": 17, "titleFontWeight": "normal", "titlePadding": 32.5}},
      "color": {"field": "yr", "type": "nominal", "scale": {"domain": [2019,2020,2021,2022], "range": ["#1b3bff","#178a8e","#1fcfea","#a53ffc"]},
            "legend": {"orient": "none", "legendX": 626.7, "legendY": 91.9, "direction": "vertical", "title": null, "symbolType": "stroke", "symbolSize": 324, "symbolStrokeWidth": 2.5, "symbolOffset": 0, "labelOffset": -55, "labelFontSize": 11, "labelColor": "#333", "rowPadding": 1.3, "padding": 0, "labelAlign": "left", "labelBaseline": "middle"}}
     }}
  ]
},
{
  "width": 595, "height": 362.3,
  "resolve": {"axis": {"x": "independent", "y": "independent"}},
  "layer": [
    {"data": {"values": [{}]}, "mark": {"type": "rule", "color": "#c6c6c6", "strokeWidth": 1},
     "encoding": {"x": {"datum": -58.28, "type": "quantitative", "axis": null}, "x2": {"datum": 399.3}, "y": {"datum": 35.42, "type": "quantitative", "axis": null}}},
    {"data": {"values": [{}]}, "mark": {"type": "rule", "color": "#c6c6c6", "strokeWidth": 1},
     "encoding": {"x": {"datum": -58.28, "type": "quantitative", "axis": null}, "y": {"datum": -2.2, "type": "quantitative", "axis": null}, "y2": {"datum": 35.42}}},
    {"data": {"values": [{}]}, "mark": {"type": "text", "text": "Vieux-Rhône de Brégnier-Cordon", "fontSize": 16, "color": "#000", "align": "center", "baseline": "alphabetic"},
     "encoding": {"x": {"datum": 185.9, "type": "quantitative", "axis": null}, "y": {"datum": 33.39, "type": "quantitative", "axis": null}}},
    {"data": {"name": "s3"}, "mark": {"type": "rule", "color": "#a2a2a2", "strokeWidth": 1},
     "encoding": {"x": {"field": "end", "type": "quantitative", "axis": null}, "y": {"datum": 0, "type": "quantitative", "axis": null}, "y2": {"datum": 30}}},
    {"data": {"name": "s3"}, "mark": {"type": "text", "fontStyle": "italic", "fontSize": 14, "color": "#8c8c8c", "baseline": "alphabetic", "align": "center"},
     "encoding": {"x": {"field": "mid", "type": "quantitative", "axis": null}, "y": {"datum": 28.15, "type": "quantitative", "axis": null}, "text": {"field": "name"}}},
    {"data": {"name": "months"}, "mark": {"type": "rule", "color": "#000", "strokeWidth": 1.5},
     "encoding": {"x": {"field": "d", "type": "quantitative", "axis": null}, "y": {"datum": 0, "type": "quantitative", "axis": null}, "y2": {"datum": -0.95}}},
    {"data": {"name": "bregnier"}, "mark": {"type": "line", "strokeWidth": 2.5, "strokeJoin": "round"},
     "encoding": {
      "x": {"field": "d", "type": "quantitative", "scale": {"domain": [0,365], "nice": false, "zero": false},
            "axis": {"values": [15.5,45,74.5,105,135.5,166,196.5,227.5,258,288.5,319,349.5], "labelExpr": "['JAN','FEV','MAR','AVR','MAI','JUIN','JUIL','AOU','SEPT','OCT','NOV','DEC'][floor(datum.value/30.42)]", "ticks": false, "tickSize": 0, "domainColor": "#000", "domainWidth": 1.5, "labelPadding": 8, "labelFontSize": 12.5, "labelFlush": false, "labelOverlap": false, "title": null}},
      "y": {"field": "t", "type": "quantitative", "scale": {"domain": [0,30], "nice": false},
            "axis": {"values": [0,5,10,15,20,25,30], "tickSize": 11, "tickWidth": 1.5, "tickColor": "#000", "domainColor": "#000", "domainWidth": 1.5, "labelFontSize": 14, "labelPadding": 5, "title": "Température (°C)", "titleFontSize": 17, "titleFontWeight": "normal", "titlePadding": 33.5}},
      "color": {"field": "yr", "type": "nominal", "scale": {"domain": [2019,2020,2021,2022], "range": ["#1b3bff","#178a8e","#1fcfea","#a53ffc"]},
            "legend": {"orient": "none", "legendX": 630, "legendY": 91.1, "direction": "vertical", "title": null, "symbolType": "stroke", "symbolSize": 324, "symbolStrokeWidth": 2.5, "symbolOffset": 0, "labelOffset": -55, "labelFontSize": 11, "labelColor": "#333", "rowPadding": 1.7, "padding": 0, "labelAlign": "left", "labelBaseline": "middle"}}
     }}
  ]
}
]
}
